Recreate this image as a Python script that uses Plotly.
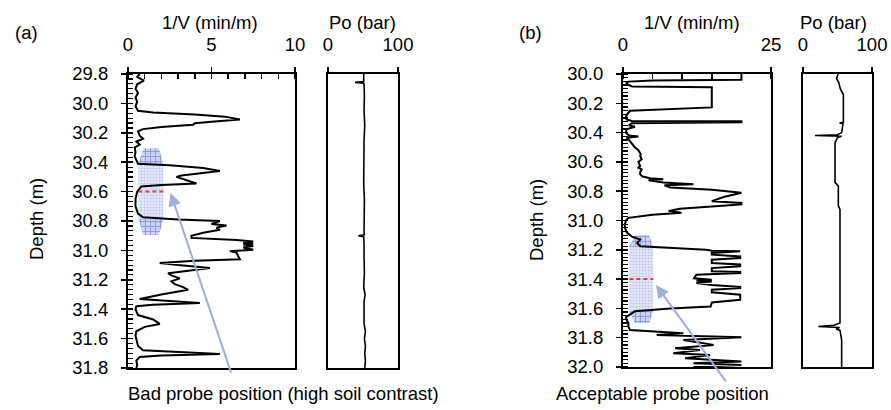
import plotly.graph_objects as go

# ---------------- data ----------------
# Panel (a): 1/V vs depth
depth_a = [29.80, 29.82, 29.845, 29.87, 29.90, 29.93, 29.96, 29.99, 30.02, 30.05, 30.062,
           30.075, 30.09, 30.11, 30.125, 30.135, 30.145, 30.16, 30.175, 30.19, 30.22, 30.24,
           30.26, 30.28, 30.30, 30.33, 30.36, 30.39, 30.41, 30.42, 30.44, 30.46, 30.475,
           30.49, 30.50, 30.52, 30.545, 30.555, 30.565, 30.60, 30.65, 30.70, 30.75, 30.775,
           30.79, 30.80, 30.82, 30.83, 30.845, 30.86, 30.88, 30.90, 30.915, 30.93, 30.94,
           30.95, 30.955, 30.96, 30.97, 30.98, 30.995, 31.005, 31.015, 31.04, 31.06, 31.07,
           31.085, 31.10, 31.12, 31.14, 31.155, 31.17, 31.19, 31.21, 31.23, 31.25, 31.268,
           31.30, 31.33, 31.345, 31.358, 31.37, 31.38, 31.40, 31.42, 31.44, 31.47, 31.50,
           31.52, 31.55, 31.58, 31.61, 31.65, 31.68, 31.695, 31.705, 31.715, 31.725, 31.75,
           31.78, 31.80]
inv_v_a = [0.70, 0.55, 0.95, 0.55, 0.45, 0.60, 0.45, 0.55, 0.45, 0.60, 1.5,
           4.0, 5.8, 6.7, 5.0, 4.0, 3.9, 2.0, 0.9, 0.6, 0.7, 0.9,
           0.5, 0.7, 0.4, 0.45, 0.4, 0.5, 0.6, 2.5, 4.5, 5.5, 4.2,
           3.2, 2.9, 3.5, 4.1, 2.0, 0.8, 0.55, 0.45, 0.45, 0.6, 0.9,
           3.0, 5.5, 5.0, 5.9, 5.3, 5.5, 4.5, 3.8, 3.8, 6.5, 7.5,
           6.9, 7.5, 6.9, 7.5, 6.9, 7.5, 6.1, 6.5, 6.6, 6.7, 4.0,
           1.9, 3.0, 4.9, 3.5, 2.4, 2.6, 3.1, 2.6, 2.8, 3.3, 3.6,
           2.0, 0.7, 2.5, 4.3, 1.5, 0.5, 0.45, 0.55, 0.6, 1.5, 1.9,
           1.0, 0.5, 0.45, 0.5, 0.6, 0.9, 3.5, 5.5, 2.0, 0.7, 0.5,
           0.55, 0.5]

# Panel (a): Po vs depth
po_depth_a = [29.80, 29.84, 29.852, 29.857, 29.862, 29.87, 29.95, 30.05, 30.15, 30.25, 30.35,
              30.45, 30.55, 30.65, 30.75, 30.88, 30.893, 30.90, 30.907, 30.95, 31.05, 31.15,
              31.25, 31.30, 31.35, 31.45, 31.50, 31.55, 31.60, 31.65, 31.70, 31.75, 31.80]
po_a = [51.0, 51.0, 51.0, 38.6, 51.0, 51.5, 52.0, 51.5, 52.5, 51.5, 51.0,
        51.5, 51.0, 52.0, 51.5, 51.5, 52.0, 43.3, 51.0, 51.5, 51.5, 52.0,
        51.0, 53.0, 51.5, 52.0, 51.5, 53.5, 52.0, 53.5, 52.5, 53.5, 52.5]

# Panel (b): 1/V vs depth
depth_b = [30.000, 30.039, 30.045, 30.052, 30.060, 30.070, 30.085, 30.091, 30.228, 30.240,
           30.251, 30.270, 30.290, 30.310, 30.320, 30.323, 30.330, 30.336, 30.350, 30.360,
           30.377, 30.400, 30.420, 30.427, 30.435, 30.445, 30.460, 30.479, 30.500, 30.520,
           30.548, 30.560, 30.582, 30.600, 30.628, 30.640, 30.651, 30.670, 30.685, 30.700,
           30.712, 30.718, 30.725, 30.740, 30.753, 30.760, 30.775, 30.790, 30.811, 30.840,
           30.868, 30.880, 30.890, 30.905, 30.920, 30.935, 30.947, 30.960, 30.982, 31.000,
           31.030, 31.060, 31.084, 31.110, 31.130, 31.153, 31.176, 31.199, 31.206, 31.210,
           31.222, 31.233, 31.245, 31.256, 31.268, 31.290, 31.300, 31.313, 31.325, 31.347,
           31.352, 31.358, 31.370, 31.381, 31.395, 31.404, 31.410, 31.416, 31.427, 31.440,
           31.454, 31.462, 31.473, 31.490, 31.507, 31.541, 31.560, 31.587, 31.600, 31.620,
           31.644, 31.660, 31.678, 31.700, 31.724, 31.747, 31.770, 31.781, 31.797, 31.815,
           31.849, 31.872, 31.884, 31.906, 31.918, 31.941, 31.963, 31.975, 31.986, 32.000]
inv_v_b = [20.0, 20.0, 5.0, 0.9, 0.6, 0.7, 1.5, 15.0, 15.0, 6.0,
           1.2, 0.8, 0.5, 0.6, 1.5, 20.0, 20.0, 1.5, 1.0, 2.0,
           0.6, 0.5, 1.0, 2.6, 0.6, 0.9, 1.2, 1.5, 2.0, 2.6,
           3.0, 2.9, 3.15, 2.6, 2.9, 2.6, 3.15, 2.9, 2.9, 3.3,
           4.6, 6.8, 4.3, 6.8, 11.9, 7.0, 8.0, 15.0, 20.0, 17.0,
           15.0, 20.0, 20.0, 15.0, 9.6, 7.7, 9.9, 5.0, 0.9, 0.5,
           0.3, 0.4, 0.7, 1.5, 2.9, 2.4, 2.9, 14.0, 15.0, 19.8,
           15.0, 15.0, 19.8, 19.8, 15.0, 15.0, 19.8, 19.8, 15.0, 15.0,
           19.8, 19.8, 12.4, 12.2, 12.0, 15.0, 12.4, 15.0, 12.4, 15.0,
           19.8, 19.8, 15.0, 15.0, 19.8, 19.8, 15.0, 14.8, 8.0, 2.0,
           1.18, 0.5, 0.62, 0.9, 0.9, 1.18, 10.2, 5.7, 20.0, 10.2,
           15.3, 8.8, 13.0, 8.5, 14.7, 10.5, 20.0, 11.9, 20.0, 11.9]

# Panel (b): Po vs depth
po_depth_b = [30.00, 30.03, 30.06, 30.10, 30.14, 30.33, 30.335, 30.34, 30.40, 30.415,
              30.42, 30.425, 30.434, 30.445, 30.468, 30.74, 30.765, 30.90, 30.925, 31.70,
              31.715, 31.724, 31.73, 31.74, 31.75, 31.815, 32.00]
po_b = [51.0, 48.5, 52.0, 54.0, 58.5, 58.5, 53.0, 58.0, 56.0, 50.0,
        17.4, 56.0, 50.0, 48.8, 46.4, 46.4, 51.2, 51.2, 53.6, 53.6,
        45.0, 22.2, 53.0, 48.0, 53.6, 56.0, 56.0]

# tick values / ranges
v_ticks_a = [0, 5, 10]
v_ticks_b = [0, 25]
po_ticks = [0, 100]
depth_range_a = [31.8, 29.8]
depth_range_b = [32.0, 30.0]

# probe geometry (depth centre, half length, taper length, x extents)
probe_a = dict(center=30.60, half=0.295, taper=0.11, x0=0.62, x1=2.12, t0=0.92, t1=1.85)
probe_b = dict(center=31.40, half=0.30, taper=0.08, x0=1.07, x1=5.10, t0=2.0, t1=4.4)

# ---------------- figure ----------------
W, H = 891, 410
FONT = "Liberation Sans, Arial, sans-serif"
FS = 18.5

def dx(p):
    return p / W

def dy(p):
    return 1 - p / H

fig = go.Figure()

def probe_traces(p, xa, ya):
    top, bot = p["center"] - p["half"], p["center"] + p["half"]
    xs = [p["t0"], p["t1"], p["x1"], p["x1"], p["t1"], p["t0"], p["x0"], p["x0"], p["t0"]]
    ys = [top, top, top + p["taper"], bot - p["taper"], bot, bot, bot - p["taper"], top + p["taper"], top]
    fig.add_trace(go.Scatter(x=xs, y=ys, mode="lines", fill="toself", line=dict(width=0),
                             fillcolor="rgba(190,198,238,0.55)",
                             fillpattern=dict(shape="+", size=3, solidity=0.25,
                                              fgcolor="#7d8fd6", bgcolor="rgba(205,212,243,0.55)"),
                             xaxis=xa, yaxis=ya, showlegend=False, hoverinfo="skip"))
    for (ya0, ya1, w0, w1) in [(top, top + p["taper"], (p["t0"], p["t1"]), (p["x0"], p["x1"])),
                               (bot - p["taper"], bot, (p["x0"], p["x1"]), (p["t0"], p["t1"]))]:
        cx = [w0[0], w0[1], w1[1], w1[0], w0[0]]
        cy = [ya0, ya0, ya1, ya1, ya0]
        fig.add_trace(go.Scatter(x=cx, y=cy, mode="lines", fill="toself", line=dict(width=0),
                                 fillcolor="rgba(150,165,225,0.35)",
                                 fillpattern=dict(shape="+", size=5, solidity=0.35,
                                                  fgcolor="#4f64c0", bgcolor="rgba(190,200,240,0.5)"),
                                 xaxis=xa, yaxis=ya, showlegend=False, hoverinfo="skip"))
    fig.add_trace(go.Scatter(x=[p["x0"], p["x1"]], y=[p["center"], p["center"]], mode="lines",
                             line=dict(color="#e5403a", width=2, dash="4px,3px"),
                             xaxis=xa, yaxis=ya, showlegend=False, hoverinfo="skip"))

probe_traces(probe_a, "x", "y")
probe_traces(probe_b, "x3", "y3")

line_style = dict(color="black", width=2)
fig.add_trace(go.Scatter(x=inv_v_a, y=depth_a, mode="lines", line=line_style, xaxis="x", yaxis="y", showlegend=False))
fig.add_trace(go.Scatter(x=po_a, y=po_depth_a, mode="lines", line=dict(color="black", width=1.6), xaxis="x2", yaxis="y2", showlegend=False))
fig.add_trace(go.Scatter(x=inv_v_b, y=depth_b, mode="lines", line=line_style, xaxis="x3", yaxis="y3", showlegend=False))
fig.add_trace(go.Scatter(x=po_b, y=po_depth_b, mode="lines", line=dict(color="black", width=1.6), xaxis="x4", yaxis="y4", showlegend=False))
fig.add_trace(go.Scatter(x=[None], y=[None], xaxis="x5", yaxis="y5", showlegend=False, hoverinfo="skip"))
fig.add_trace(go.Scatter(x=[None], y=[None], xaxis="x6", yaxis="y6", showlegend=False, hoverinfo="skip"))

tickfont = dict(family=FONT, size=FS, color="black")
common = dict(showgrid=False, zeroline=False, showline=True, linecolor="black", tickcolor="black",
              tickfont=tickfont, fixedrange=True, automargin=False)

ya_dom = [dy(368), dy(74)]
yb_dom = [dy(367), dy(74)]

def vx(rng, ticks, minor_dt, dom, anchor):
    return dict(common, domain=dom, range=rng, side="top", anchor=anchor, tickvals=ticks,
                ticks="outside", ticklen=5, tickwidth=1.5, linewidth=2, mirror=True,
                ticklabelstandoff=9,
                minor=dict(dtick=minor_dt, tick0=0, ticks="inside", ticklen=5, tickwidth=1.5, tickcolor="black"))

def vy(rng, minor_dt, dom, anchor):
    return dict(common, domain=dom, range=rng, anchor=anchor, tick0=rng[1], dtick=0.2, tickformat=".1f",
                ticks="outside", ticklen=5, tickwidth=1.5, linewidth=2, mirror=True,
                ticklabelstandoff=9,
                minor=dict(dtick=minor_dt, tick0=rng[1], ticks="inside", ticklen=5, tickwidth=1.2, tickcolor="black"))

def px_(rng, ticks, dom, anchor):
    return dict(common, domain=dom, range=rng, side="top", anchor=anchor, tickvals=ticks,
                ticks="outside", ticklen=5, tickwidth=1.5, linewidth=1.6, mirror=True, ticklabelstandoff=9)

def py_(rng, dom, anchor):
    return dict(common, domain=dom, range=rng, anchor=anchor, showticklabels=False, ticks="",
                linewidth=1.6, mirror=True)

def ov_x(rng, ticks, over, anchor):
    return dict(overlaying=over, anchor=anchor, side="top", range=rng, tickvals=ticks, ticks="inside",
                ticklen=5, tickwidth=1.5, tickcolor="black", showticklabels=False, showline=False,
                showgrid=False, zeroline=False, fixedrange=True, automargin=False)

def ov_y(rng, over, anchor):
    return dict(overlaying=over, anchor=anchor, side="left", range=rng, tick0=rng[1], dtick=0.2,
                ticks="inside", ticklen=5, tickwidth=1.5, tickcolor="black", showticklabels=False,
                showline=False, showgrid=False, zeroline=False, fixedrange=True, automargin=False)

fig.update_layout(
    width=W, height=H, margin=dict(l=0, r=0, t=0, b=0, pad=0, autoexpand=False),
    paper_bgcolor="white", plot_bgcolor="white", showlegend=False,
    font=dict(family=FONT, size=FS, color="black"),
    xaxis=vx([0, 10], v_ticks_a, 1, [dx(128), dx(295)], "y"),
    yaxis=vy(depth_range_a, 0.2 / 6, ya_dom, "x"),
    xaxis2=px_([0, 100], po_ticks, [dx(328), dx(398)], "y2"),
    yaxis2=py_(depth_range_a, ya_dom, "x2"),
    xaxis3=vx([0, 25], v_ticks_b, 5, [dx(623), dx(771)], "y3"),
    yaxis3=vy(depth_range_b, 0.025, yb_dom, "x3"),
    xaxis4=px_([0, 100], po_ticks, [dx(803), dx(872)], "y4"),
    yaxis4=py_(depth_range_b, yb_dom, "x4"),
    xaxis5=ov_x([0, 10], v_ticks_a, "x", "y"),
    yaxis5=ov_y(depth_range_a, "y", "x"),
    xaxis6=ov_x([0, 25], v_ticks_b, "x3", "y3"),
    yaxis6=ov_y(depth_range_b, "y3", "x3"),
)

def note(text, x, y, xanchor="center", angle=0):
    fig.add_annotation(text=text, x=dx(x), y=dy(y), xref="paper", yref="paper", showarrow=False,
                       xanchor=xanchor, yanchor="middle", textangle=angle,
                       font=dict(family=FONT, size=FS, color="black"))

note("1/V (min/m)", 210, 22)
note("Po (bar)", 362, 22)
note("1/V (min/m)", 692, 22)
note("Po (bar)", 833, 22)
note("(a)", 13, 33, "left")
note("(b)", 517, 33, "left")
note("Depth (m)", 36, 219, angle=-90)
note("Depth (m)", 536, 220, angle=-90)
note("Bad probe position (high soil contrast)", 283, 393)
note("Acceptable probe position", 662, 393)

arrow_col = "#a2abda"
fig.add_annotation(x=2.55, y=30.61, xref="x", yref="y", ax=61, ay=181, axref="pixel", ayref="pixel",
                   text="", showarrow=True, arrowhead=2, arrowsize=1.3, arrowwidth=2, arrowcolor=arrow_col, standoff=0)
fig.add_annotation(x=5.57, y=31.44, xref="x3", yref="y3", ax=71, ay=98, axref="pixel", ayref="pixel",
                   text="", showarrow=True, arrowhead=2, arrowsize=1.3, arrowwidth=2, arrowcolor=arrow_col, standoff=0)

fig.write_html("out.html", config={"displayModeBar": False, "staticPlot": True},
               post_script="document.body.style.margin='0px';document.body.style.overflow='hidden';")
